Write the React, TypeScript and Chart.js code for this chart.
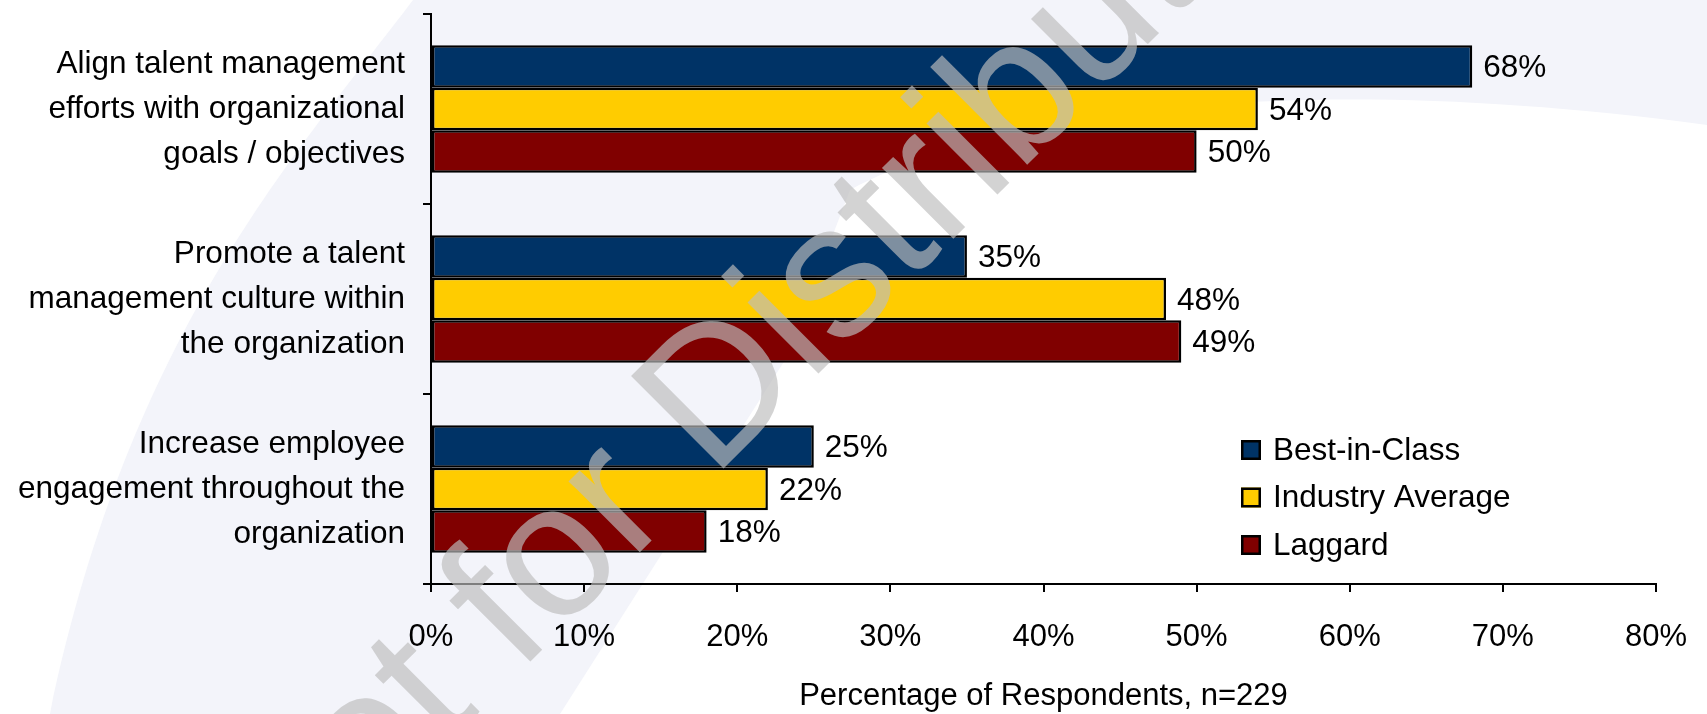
import React, { useEffect, useRef } from "react";
import { Chart, registerables } from "chart.js";

Chart.register(...registerables);

// ---- data ----
const categories: string[][] = [
  ["Align talent management", "efforts with organizational", "goals / objectives"],
  ["Promote a talent", "management culture within", "the organization"],
  ["Increase employee", "engagement throughout the", "organization"],
];
const seriesNames = ["Best-in-Class", "Industry Average", "Laggard"];
const bestInClass = [68, 35, 25];
const industryAverage = [54, 48, 22];
const laggard = [50, 49, 18];
const seriesColors = ["#003366", "#FFCC00", "#800000"];
const xMin = 0;
const xMax = 80;
const xStep = 10;
const xTitle = "Percentage of Respondents, n=229";
const watermarkText = "Not for Distribution";

const FONT = "'Liberation Sans', Arial, Helvetica, sans-serif";

const backgroundPlugin = {
  id: "bgSwoosh",
  beforeDraw(chart: any) {
    const ctx = chart.ctx as CanvasRenderingContext2D;
    const w = chart.width;
    const h = chart.height;
    ctx.save();
    ctx.fillStyle = "#f3f4fa";
    ctx.fillRect(0, 0, w, h);
    ctx.fillStyle = "#ffffff";
    // left white region
    ctx.beginPath();
    ctx.moveTo(0, 0);
    ctx.lineTo(413, 0);
    ctx.bezierCurveTo(300, 150, 130, 330, 50, h);
    ctx.lineTo(0, h);
    ctx.closePath();
    ctx.fill();
    // large white region on the right
    ctx.beginPath();
    ctx.moveTo(560, h);
    ctx.lineTo(785, 360);
    ctx.lineTo(850, 190);
    ctx.bezierCurveTo(1000, 110, 1300, 70, w, 125);
    ctx.lineTo(w, h);
    ctx.closePath();
    ctx.fill();
    ctx.restore();
  },
};

const valueLabelPlugin = {
  id: "valueLabels",
  afterDatasetsDraw(chart: any) {
    const ctx = chart.ctx as CanvasRenderingContext2D;
    ctx.save();
    ctx.font = `31.5px ${FONT}`;
    ctx.fillStyle = "#000";
    ctx.textAlign = "left";
    ctx.textBaseline = "middle";
    chart.data.datasets.forEach((ds: any, i: number) => {
      const meta = chart.getDatasetMeta(i);
      meta.data.forEach((bar: any, j: number) => {
        ctx.fillText(`${ds.data[j]}%`, bar.x + 11, bar.y + 2);
      });
    });
    ctx.restore();
  },
};

const legendPlugin = {
  id: "customLegend",
  afterDraw(chart: any) {
    const ctx = chart.ctx as CanvasRenderingContext2D;
    const area = chart.chartArea;
    const boxX = area.left + 810;
    const startY = area.top + 436;
    const rowGap = 47.5;
    const box = 20;
    ctx.save();
    ctx.font = `31.5px ${FONT}`;
    ctx.textAlign = "left";
    ctx.textBaseline = "middle";
    chart.data.datasets.forEach((ds: any, i: number) => {
      const cy = startY + i * rowGap;
      ctx.fillStyle = ds.backgroundColor;
      ctx.fillRect(boxX, cy - box / 2, box, box);
      ctx.lineWidth = 2.5;
      ctx.strokeStyle = "#000";
      ctx.strokeRect(boxX + 1.25, cy - box / 2 + 1.25, box - 2.5, box - 2.5);
      ctx.fillStyle = "#000";
      ctx.fillText(ds.label, boxX + box + 12, cy + 1);
    });
    ctx.restore();
  },
};

const watermarkPlugin = {
  id: "watermark",
  afterDraw(chart: any) {
    const ctx = chart.ctx as CanvasRenderingContext2D;
    ctx.save();
    ctx.translate(272, 920);
    ctx.rotate(-Math.PI / 4);
    ctx.font = `190px ${FONT}`;
    ctx.fillStyle = "rgba(189,189,189,0.667)";
    ctx.textAlign = "left";
    ctx.textBaseline = "alphabetic";
    ctx.fillText(watermarkText, 0, 0);
    ctx.restore();
  },
};

export default function App() {
  const canvasRef = useRef<HTMLCanvasElement | null>(null);

  useEffect(() => {
    if (!canvasRef.current) return;
    const seriesData = [bestInClass, industryAverage, laggard];
    const chart = new Chart(canvasRef.current, {
      type: "bar",
      data: {
        labels: categories,
        datasets: seriesData.map((d, i) => ({
          label: seriesNames[i],
          data: d,
          backgroundColor: seriesColors[i],
          borderColor: "#000000",
          borderWidth: 2.5,
          borderSkipped: false,
          barPercentage: 1,
          categoryPercentage: 0.67,
        })),
      },
      options: {
        indexAxis: "y",
        responsive: true,
        maintainAspectRatio: false,
        animation: false,
        devicePixelRatio: 1,
        layout: { padding: { top: 14, right: 51, bottom: 0, left: 0 } },
        plugins: {
          legend: { display: false },
          tooltip: { enabled: false },
          title: { display: false },
        },
        scales: {
          x: {
            type: "linear",
            min: xMin,
            max: xMax,
            ticks: {
              stepSize: xStep,
              callback: (v: any) => `${v}%`,
              color: "#000",
              font: { family: FONT, size: 31 },
              padding: 27,
              maxRotation: 0,
            },
            grid: {
              drawOnChartArea: false,
              drawTicks: true,
              tickLength: 8,
              color: "#000",
              lineWidth: 2,
            },
            border: { display: true, color: "#000", width: 2 },
            title: {
              display: true,
              text: xTitle,
              color: "#000",
              font: { family: FONT, size: 31, lineHeight: 1.1 },
              padding: { top: 0, bottom: 0 },
            },
            afterFit: (scale: any) => {
              scale.height = 130;
              scale.paddingLeft = 0;
              scale.paddingRight = 0;
            },
          },
          y: {
            type: "category",
            offset: true,
            ticks: {
              color: "#000",
              font: { family: FONT, size: 31.5, lineHeight: "45px" },
              padding: 18,
            },
            grid: {
              offset: true,
              drawOnChartArea: false,
              drawTicks: true,
              tickLength: 8,
              color: "#000",
              lineWidth: 2,
            },
            border: { display: true, color: "#000", width: 2 },
            afterFit: (scale: any) => {
              scale.width = 431;
              scale.paddingTop = 0;
              scale.paddingBottom = 0;
            },
          },
        },
      } as any,
      plugins: [backgroundPlugin, valueLabelPlugin, legendPlugin, watermarkPlugin],
    });
    return () => chart.destroy();
  }, []);

  return (
    <div style={{ position: "fixed", left: 0, top: 0, width: 1707, height: 714 }}>
      <canvas ref={canvasRef} />
    </div>
  );
}
